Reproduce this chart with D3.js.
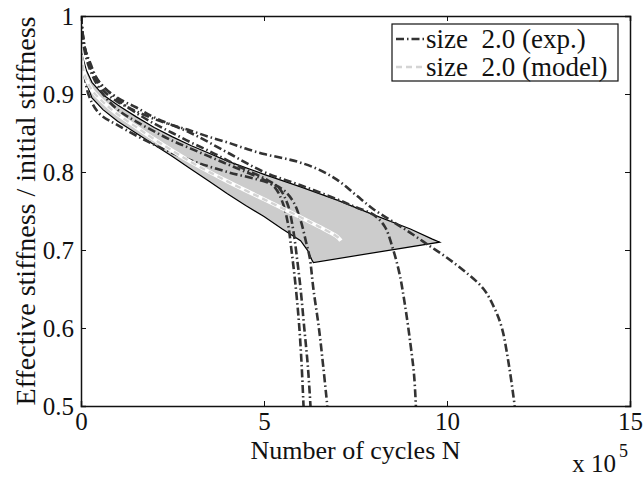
<!DOCTYPE html>
<html>
<head>
<meta charset="utf-8">
<script src="https://cdn.jsdelivr.net/npm/d3@7"></script>
<style>
  body { margin: 0; background: #fff; }
  text { font-family: "Liberation Serif", "Times New Roman", serif; fill: #111; }
</style>
</head>
<body>
<svg id="chart"></svg>
<script>
// cycles in units of 1e5, stiffness ratio
const xTicks = [0, 5, 10, 15];
const yTicks = [0.5, 0.6, 0.7, 0.8, 0.9, 1];
const yTickLabels = ['0.5', '0.6', '0.7', '0.8', '0.9', '1'];

// scatter band of the model (upper edge, then lower edge back)
const bandUpper = [
  [0, 0.955], [0.15, 0.93], [0.3, 0.915], [0.6, 0.899], [1, 0.886], [1.5, 0.871],
  [2, 0.857], [2.5, 0.845], [3, 0.834], [3.5, 0.824], [4, 0.814], [5, 0.797],
  [6, 0.781], [7, 0.764], [8, 0.745], [9, 0.727], [9.6, 0.714], [9.8, 0.71],
];
const bandLower = [
  [9.8, 0.71], [6.35, 0.684], [6.3, 0.688], [6.2, 0.699], [6, 0.712], [5.5, 0.727],
  [5, 0.743], [4.5, 0.757], [4, 0.772], [3.5, 0.788], [3, 0.804], [2.5, 0.82],
  [2, 0.835], [1.5, 0.85], [1, 0.865], [0.6, 0.88], [0.3, 0.895], [0.1, 0.92], [0, 0.945],
];

const expA = [
  [0, 1.0], [0.1, 0.96], [0.3, 0.93], [0.6, 0.905], [1, 0.89], [1.5, 0.878], [2, 0.868],
  [2.5, 0.86], [3, 0.853], [3.5, 0.845], [4, 0.838], [4.5, 0.83], [5, 0.823], [5.5, 0.818],
  [6, 0.812], [6.5, 0.803], [7, 0.79], [7.5, 0.771], [8, 0.752], [8.5, 0.737], [9, 0.722],
  [9.5, 0.706], [10, 0.69], [10.5, 0.672], [11, 0.65], [11.3, 0.625], [11.5, 0.6],
  [11.7, 0.55], [11.85, 0.5],
];
const expB = [
  [0, 1.0], [0.1, 0.96], [0.25, 0.94], [0.5, 0.915], [1, 0.895], [1.5, 0.883], [2, 0.87],
  [3, 0.85], [4, 0.825], [5, 0.8], [6, 0.783], [7, 0.765], [7.5, 0.755], [8, 0.745],
  [8.3, 0.73], [8.5, 0.705], [8.7, 0.67], [8.85, 0.63], [9, 0.58], [9.1, 0.54], [9.15, 0.5],
];
const expC = [
  [0, 1.0], [0.1, 0.955], [0.3, 0.925], [0.6, 0.9], [1, 0.88], [1.5, 0.865], [2, 0.852],
  [2.5, 0.84], [3, 0.83], [3.5, 0.82], [4, 0.81], [4.5, 0.8], [5, 0.79], [5.3, 0.78],
  [5.5, 0.762], [5.65, 0.735], [5.75, 0.7], [5.85, 0.66], [5.95, 0.61], [6.02, 0.56], [6.08, 0.5],
];
const expD = [
  [0, 1.0], [0.1, 0.96], [0.3, 0.93], [0.6, 0.91], [1, 0.893], [1.5, 0.876], [2, 0.862],
  [2.5, 0.85], [3, 0.838], [3.5, 0.827], [4, 0.815], [4.5, 0.803], [5, 0.792], [5.4, 0.78],
  [5.65, 0.758], [5.8, 0.725], [5.9, 0.69], [6, 0.65], [6.1, 0.6], [6.2, 0.55], [6.27, 0.5],
];
const expE = [
  [0, 0.4], [0, 0.95], [0.2, 0.9], [0.5, 0.875], [1, 0.86], [2, 0.835], [3, 0.815],
  [4, 0.8], [5, 0.788], [5.5, 0.778], [5.8, 0.762], [6, 0.738], [6.15, 0.71], [6.25, 0.69],
  [6.35, 0.65], [6.5, 0.6], [6.62, 0.55], [6.73, 0.5],
];
const expSeries = [expA, expB, expC, expD, expE];

const model = [
  [0, 0.95], [0.1, 0.925], [0.3, 0.905], [0.6, 0.89], [1, 0.874], [1.5, 0.858], [2, 0.842],
  [3, 0.813], [4, 0.788], [5, 0.765], [6, 0.742], [6.5, 0.73], [7, 0.717], [7.1, 0.712],
];

const legendLabels = ['size  2.0 (exp.)', 'size  2.0 (model)'];

const width = 644;
const height = 477;
const margin = { top: 16, right: 14, bottom: 71, left: 81 };
const innerW = width - margin.left - margin.right;
const innerH = height - margin.top - margin.bottom;

const svg = d3.select('#chart').attr('width', width).attr('height', height);

const x = d3.scaleLinear().domain([0, 15]).range([0, innerW]);
const y = d3.scaleLinear().domain([0.5, 1]).range([innerH, 0]);

const g = svg.append('g').attr('transform', `translate(${margin.left},${margin.top})`);

g.append('clipPath').attr('id', 'clip')
  .append('rect').attr('width', innerW).attr('height', innerH);

const plot = g.append('g').attr('clip-path', 'url(#clip)');

const curve = d3.line()
  .x(d => x(d[0]))
  .y(d => y(d[1]))
  .curve(d3.curveCatmullRom.alpha(0.5));

// band
const bandPath = d3.line().x(d => x(d[0])).y(d => y(d[1]));
plot.append('path')
  .attr('d', bandPath(bandUpper.concat(bandLower)) + 'Z')
  .attr('fill', '#cccccc')
  .attr('stroke', '#000')
  .attr('stroke-width', 1.2);

// experiments
const expDash = '8,3,1.5,3';
plot.selectAll('.exp')
  .data(expSeries)
  .enter()
  .append('path')
  .attr('class', 'exp')
  .attr('d', curve)
  .attr('fill', 'none')
  .attr('stroke', '#333')
  .attr('stroke-width', 2.6)
  .attr('stroke-dasharray', expDash);

// model
plot.append('path')
  .attr('d', curve(model))
  .attr('fill', 'none')
  .attr('stroke', '#fff')
  .attr('stroke-width', 4);
plot.append('path')
  .attr('d', curve(model))
  .attr('fill', 'none')
  .attr('stroke', '#d4d4d4')
  .attr('stroke-width', 2.4)
  .attr('stroke-dasharray', '6,4');

// axes box + ticks
const axisColor = '#111';
const tickLen = 5;
const xAxisB = d3.axisBottom(x).tickValues(xTicks).tickSize(-tickLen).tickPadding(6).tickFormat(d3.format('d'));
const xAxisT = d3.axisTop(x).tickValues(xTicks).tickSize(-tickLen).tickFormat('');
const yAxisL = d3.axisLeft(y).tickValues(yTicks).tickSize(-tickLen).tickPadding(7)
  .tickFormat((d, i) => yTickLabels[i]);
const yAxisR = d3.axisRight(y).tickValues(yTicks).tickSize(-tickLen).tickFormat('');

const styleAxis = sel => {
  sel.attr('font-family', null);
  sel.select('.domain').attr('stroke', axisColor).attr('stroke-width', 1.5);
  sel.selectAll('.tick line').attr('stroke', axisColor).attr('stroke-width', 1);
  sel.selectAll('.tick text')
    .attr('fill', '#111')
    .style('font-family', '"Liberation Serif", "Times New Roman", serif')
    .style('font-size', '25px');
};

g.append('g').attr('transform', `translate(0,${innerH})`).call(xAxisB).call(styleAxis);
g.append('g').call(xAxisT).call(styleAxis);
g.append('g').call(yAxisL).call(styleAxis);
g.append('g').attr('transform', `translate(${innerW},0)`).call(yAxisR).call(styleAxis);

// labels
svg.append('text')
  .attr('x', margin.left + innerW / 2)
  .attr('y', 459)
  .attr('text-anchor', 'middle')
  .style('font-size', '26px')
  .text('Number of cycles N');

svg.append('text')
  .attr('transform', `translate(35,${margin.top + innerH / 2}) rotate(-90)`)
  .attr('text-anchor', 'middle')
  .style('font-size', '28px')
  .text('Effective stiffness / initial stiffness');

svg.append('text')
  .attr('x', 616)
  .attr('y', 472)
  .attr('text-anchor', 'end')
  .style('font-size', '25px')
  .text('x 10');
svg.append('text')
  .attr('x', 619)
  .attr('y', 457)
  .style('font-size', '18px')
  .text('5');

// legend
const legend = svg.append('g').attr('transform', 'translate(392,24)');
legend.append('rect')
  .attr('width', 226).attr('height', 57)
  .attr('fill', '#fff').attr('stroke', '#111').attr('stroke-width', 1.2);

const legendStyles = [
  { stroke: '#333', width: 2.4, dash: expDash },
  { stroke: '#d4d4d4', width: 2.4, dash: '6,4' },
];
legendLabels.forEach((label, i) => {
  const cy = 15 + i * 28;
  legend.append('line')
    .attr('x1', 4).attr('x2', 32).attr('y1', cy).attr('y2', cy)
    .attr('stroke', legendStyles[i].stroke)
    .attr('stroke-width', legendStyles[i].width)
    .attr('stroke-dasharray', legendStyles[i].dash);
  legend.append('text')
    .attr('x', 34).attr('y', cy + 9)
    .attr('xml:space', 'preserve')
    .style('white-space', 'pre')
    .style('font-size', '27px')
    .text(label);
});
</script>
</body>
</html>
